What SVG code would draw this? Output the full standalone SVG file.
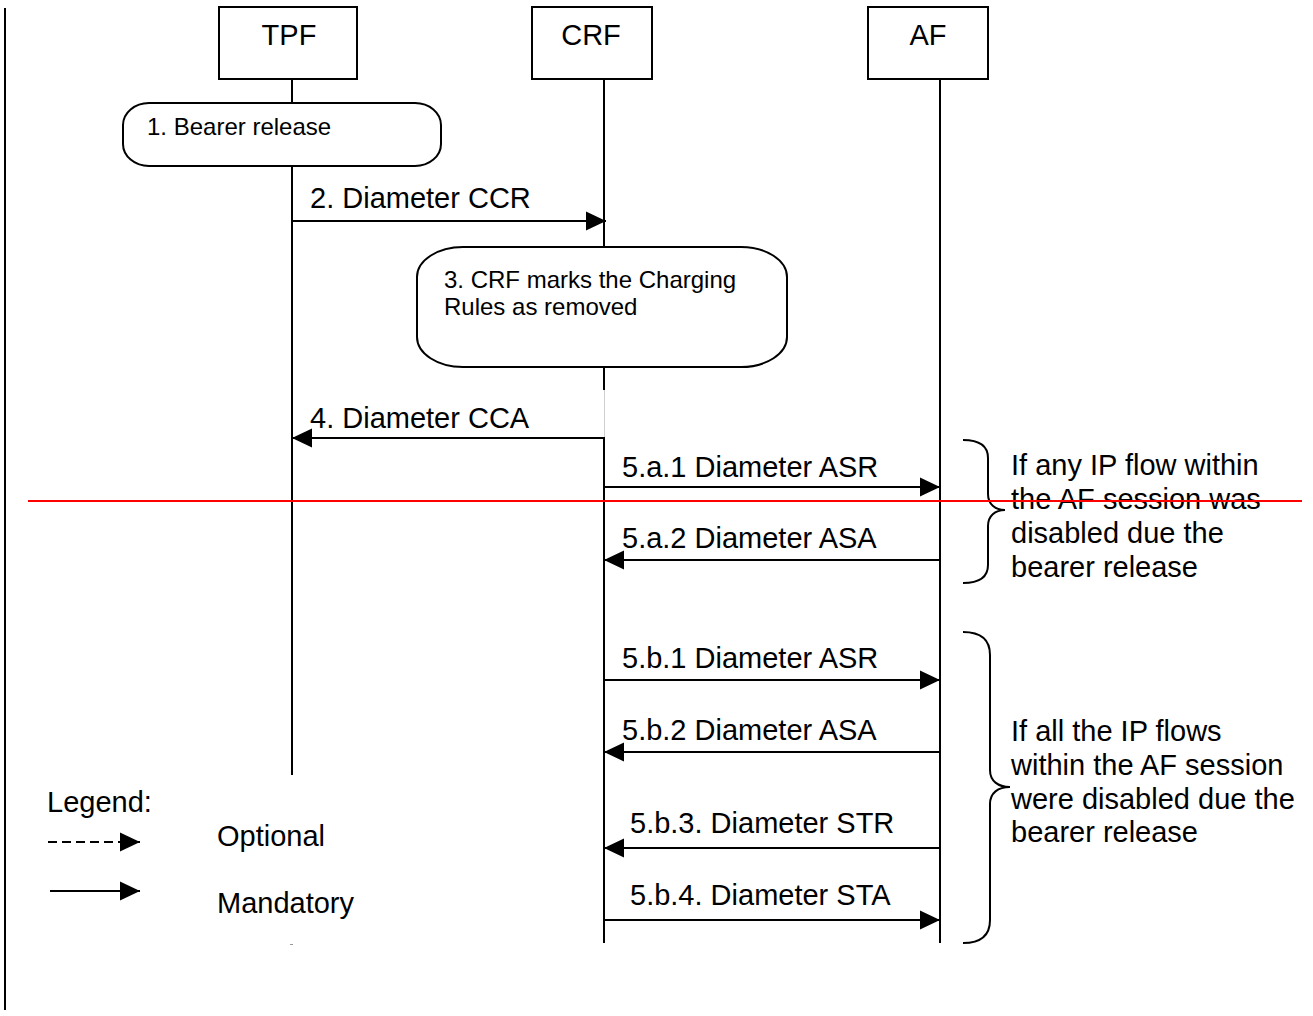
<svg xmlns="http://www.w3.org/2000/svg" width="1313" height="1016" viewBox="0 0 1313 1016">
<defs>
<marker id="ah" viewBox="0 0 20 20" refX="20" refY="10" markerWidth="20" markerHeight="20" markerUnits="userSpaceOnUse" orient="auto">
<path d="M0,0.5 L20,10 L0,19.5 z" fill="#000"/>
</marker>
<style>
text{font-family:"Liberation Sans",Arial,Helvetica,sans-serif;fill:#000}
.big{font-size:29px}
.sm{font-size:24px}
.box{fill:#fff;stroke:#000;stroke-width:2}
.life{stroke:#000;stroke-width:2;fill:none}
.msg{stroke:#000;stroke-width:2;fill:none;marker-end:url(#ah)}
.brace{stroke:#000;stroke-width:2;fill:none}
</style>
</defs>
<rect width="1313" height="1016" fill="#fff"/>
<line x1="5" y1="8" x2="5" y2="1010" stroke="#000" stroke-width="2"/>

<g id="TPF">
<rect class="box" x="219" y="7" width="138" height="72"/>
<text class="big" x="289" y="45" text-anchor="middle">TPF</text>
<line class="life" x1="292" y1="79" x2="292" y2="103"/>
<line class="life" x1="292" y1="166" x2="292" y2="775"/>
</g>
<g id="CRF">
<rect class="box" x="532" y="7" width="120" height="72"/>
<text class="big" x="591" y="45" text-anchor="middle">CRF</text>
<line class="life" x1="604" y1="79" x2="604" y2="247"/>
<line class="life" x1="604" y1="367" x2="604" y2="390"/>
<line x1="604.5" y1="390" x2="604.5" y2="438" stroke="#d0d0d0" stroke-width="1"/>
<line class="life" x1="604" y1="437" x2="604" y2="943"/>
</g>
<g id="AF">
<rect class="box" x="868" y="7" width="120" height="72"/>
<text class="big" x="928" y="45" text-anchor="middle">AF</text>
<line class="life" x1="940" y1="79" x2="940" y2="943"/>
</g>

<g id="step1">
<rect class="box" x="123" y="103" width="318" height="63" rx="26" ry="22"/>
<text class="sm" x="147" y="135">1. Bearer release</text>
</g>
<g id="step3">
<rect class="box" x="417" y="247" width="370" height="120" rx="46" ry="30"/>
<text class="sm" x="444" y="288">3. CRF marks the Charging</text>
<text class="sm" x="444" y="315">Rules as removed</text>
</g>

<g id="connectors">
<line class="msg" x1="292" y1="221" x2="606" y2="221"/>
<text class="big" x="310" y="208">2. Diameter CCR</text>
<polyline class="msg" points="604,437 604,438 292,438"/>
<text class="big" x="310" y="428">4. Diameter CCA</text>
<line class="msg" x1="604" y1="487" x2="940" y2="487"/>
<text class="big" x="622" y="477">5.a.1 Diameter ASR</text>
<line class="msg" x1="940" y1="560" x2="604" y2="560"/>
<text class="big" x="622" y="548">5.a.2 Diameter ASA</text>
<line class="msg" x1="604" y1="680" x2="940" y2="680"/>
<text class="big" x="622" y="668">5.b.1 Diameter ASR</text>
<line class="msg" x1="940" y1="752" x2="604" y2="752"/>
<text class="big" x="622" y="740">5.b.2 Diameter ASA</text>
<line class="msg" x1="940" y1="848" x2="604" y2="848"/>
<text class="big" x="630" y="833">5.b.3. Diameter STR</text>
<line class="msg" x1="604" y1="920" x2="940" y2="920"/>
<text class="big" x="630" y="905">5.b.4. Diameter STA</text>
</g>

<g id="braceA">
<path class="brace" d="M963,440 C980,440 988,446 988,458 L988,494 C988,504 995,510 1005,510 C995,510 988,516 988,526 L988,565 C988,577 980,583 963,583"/>
<text class="big" x="1011" y="475">If any IP flow within</text>
<text class="big" x="1011" y="509">the AF session was</text>
<text class="big" x="1011" y="543">disabled due the</text>
<text class="big" x="1011" y="576.5">bearer release</text>
</g>
<g id="braceB">
<path class="brace" d="M963,632 C982,632 990,640 990,655 L990,770 C990,781 998,787 1010,787 C998,787 990,793 990,804 L990,920 C990,935 982,943 963,943"/>
<text class="big" x="1011" y="741">If all the IP flows</text>
<text class="big" x="1011" y="775">within the AF session</text>
<text class="big" x="1011" y="808.5">were disabled due the</text>
<text class="big" x="1011" y="842">bearer release</text>
</g>

<line x1="28" y1="501" x2="1302" y2="501" stroke="#ff0000" stroke-width="2"/>

<g id="legend">
<text class="big" x="47" y="812">Legend:</text>
<line x1="48" y1="842" x2="140" y2="842" stroke="#000" stroke-width="2" stroke-dasharray="9,5" marker-end="url(#ah)"/>
<text class="big" x="217" y="846">Optional</text>
<line class="msg" x1="50" y1="891" x2="140" y2="891"/>
<text class="big" x="217" y="913">Mandatory</text>
<line x1="290" y1="944.5" x2="293" y2="944.5" stroke="#999" stroke-width="1"/>
</g>
</svg>
